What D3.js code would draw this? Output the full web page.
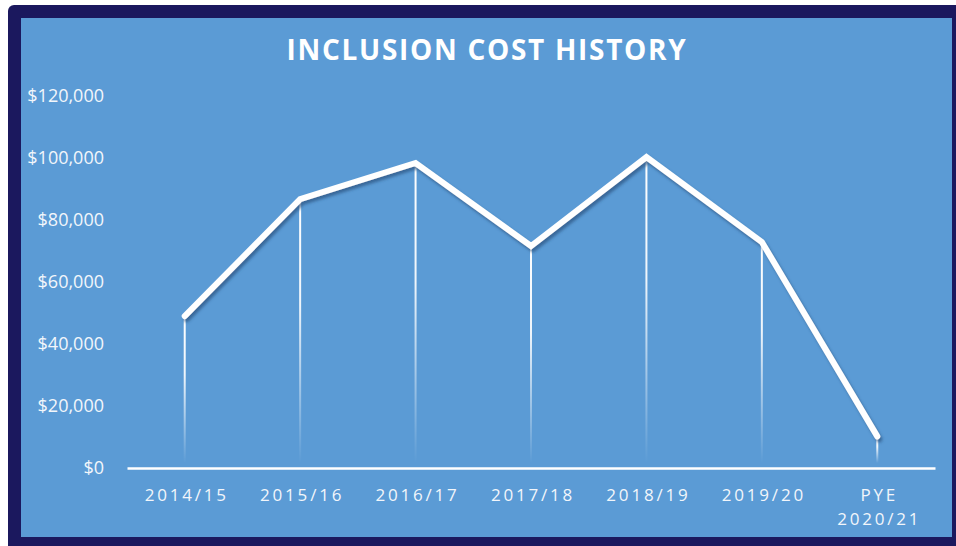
<!DOCTYPE html>
<html>
<head>
<meta charset="utf-8">
<script src="https://cdn.jsdelivr.net/npm/d3@7"></script>
<style>
  body { margin: 0; background: #fff; }
  text { font-family: "Open Sans", "DejaVu Sans", sans-serif; }
</style>
</head>
<body>
<div id="chart"></div>
<script>
// data
var years = ["2014/15", "2015/16", "2016/17", "2017/18", "2018/19", "2019/20", "PYE\n2020/21"];
var costs = [49000, 86700, 98400, 71600, 100300, 72900, 10200];
var yTicks = [0, 20000, 40000, 60000, 80000, 100000, 120000];
var chartTitle = "INCLUSION COST HISTORY";

var W = 956, H = 546;
var plot = { left: 127, right: 935, top: 96, bottom: 468 };

var svg = d3.select("#chart").append("svg")
    .attr("width", W)
    .attr("height", H);

var defs = svg.append("defs");

// shadow under the main line
var shadow = defs.append("filter")
    .attr("id", "lineShadow")
    .attr("x", "-10%").attr("y", "-10%")
    .attr("width", "120%").attr("height", "130%");
shadow.append("feDropShadow")
    .attr("dx", 2).attr("dy", 3)
    .attr("stdDeviation", 1.5)
    .attr("flood-color", "#25527f")
    .attr("flood-opacity", 0.7);

// drop lines fade out toward the axis
var grad = defs.append("linearGradient")
    .attr("id", "dropFade")
    .attr("x1", 0).attr("y1", 0)
    .attr("x2", 0).attr("y2", 1);
grad.append("stop").attr("offset", "0%").attr("stop-color", "#fff").attr("stop-opacity", 1);
grad.append("stop").attr("offset", "40%").attr("stop-color", "#fff").attr("stop-opacity", 0.9);
grad.append("stop").attr("offset", "100%").attr("stop-color", "#fff").attr("stop-opacity", 0);

// frame
svg.append("rect")
    .attr("x", 8).attr("y", 5)
    .attr("width", W - 8 + 6).attr("height", H - 5 + 6)
    .attr("rx", 6)
    .attr("fill", "#1b185e");
svg.append("rect")
    .attr("x", 21).attr("y", 18)
    .attr("width", 952 - 21).attr("height", 537 - 18)
    .attr("fill", "#5b9bd5");

// title
svg.append("text")
    .attr("x", 487)
    .attr("y", 60)
    .attr("text-anchor", "middle")
    .attr("fill", "#fff")
    .style("font-size", "28px")
    .style("font-weight", "bold")
    .style("letter-spacing", "1.7px")
    .text(chartTitle);

var x = d3.scaleBand()
    .domain(years)
    .range([plot.left, plot.right])
    .padding(0);

var y = d3.scaleLinear()
    .domain([0, 120000])
    .range([plot.bottom, plot.top]);

function cx(d) { return x(d) + x.bandwidth() / 2; }

// y axis labels
var yAxis = d3.axisLeft(y)
    .tickValues(yTicks)
    .tickSize(0)
    .tickPadding(23)
    .tickFormat(function(d) { return "$" + d3.format(",")(d); });

var gy = svg.append("g")
    .attr("transform", "translate(" + plot.left + ",0)")
    .call(yAxis);
gy.select(".domain").remove();
gy.selectAll("text")
    .attr("fill", "#f2f6fb")
    .style("font-size", "18px")
    .style("font-family", "'Open Sans', sans-serif");

// x axis
var xAxis = d3.axisBottom(x).tickSize(0).tickFormat("");
var gx = svg.append("g")
    .attr("transform", "translate(0," + plot.bottom + ")")
    .call(xAxis);
gx.select(".domain")
    .attr("stroke", "#fff")
    .attr("stroke-width", 2.5);

var xl = svg.append("g").selectAll("text")
    .data(years)
    .enter()
    .append("text")
    .attr("x", function(d) { return cx(d) + 2; })
    .attr("y", plot.bottom + 33)
    .attr("text-anchor", "middle")
    .attr("fill", "#f2f6fb")
    .style("font-size", "17px")
    .style("letter-spacing", "2.8px");
xl.each(function(d) {
    var parts = d.split("\n");
    var t = d3.select(this);
    parts.forEach(function(p, i) {
        t.append("tspan")
            .attr("x", cx(d) + 2)
            .attr("dy", i == 0 ? 0 : 24)
            .text(p);
    });
});

// drop lines
var points = years.map(function(d, i) { return { name: d, value: costs[i] }; });

svg.append("g").selectAll("rect")
    .data(points)
    .enter()
    .append("rect")
    .attr("x", function(d) { return cx(d.name) - 1; })
    .attr("y", function(d) { return y(d.value); })
    .attr("width", 2)
    .attr("height", function(d) { return plot.bottom - 5 - y(d.value); })
    .attr("fill", "url(#dropFade)");

// main line
var line = d3.line()
    .x(function(d) { return cx(d.name); })
    .y(function(d) { return y(d.value); });

svg.append("path")
    .datum(points)
    .attr("d", line)
    .attr("fill", "none")
    .attr("stroke", "#fff")
    .attr("stroke-width", 6)
    .attr("stroke-linejoin", "miter")
    .attr("stroke-linecap", "round")
    .attr("filter", "url(#lineShadow)");
</script>
</body>
</html>
